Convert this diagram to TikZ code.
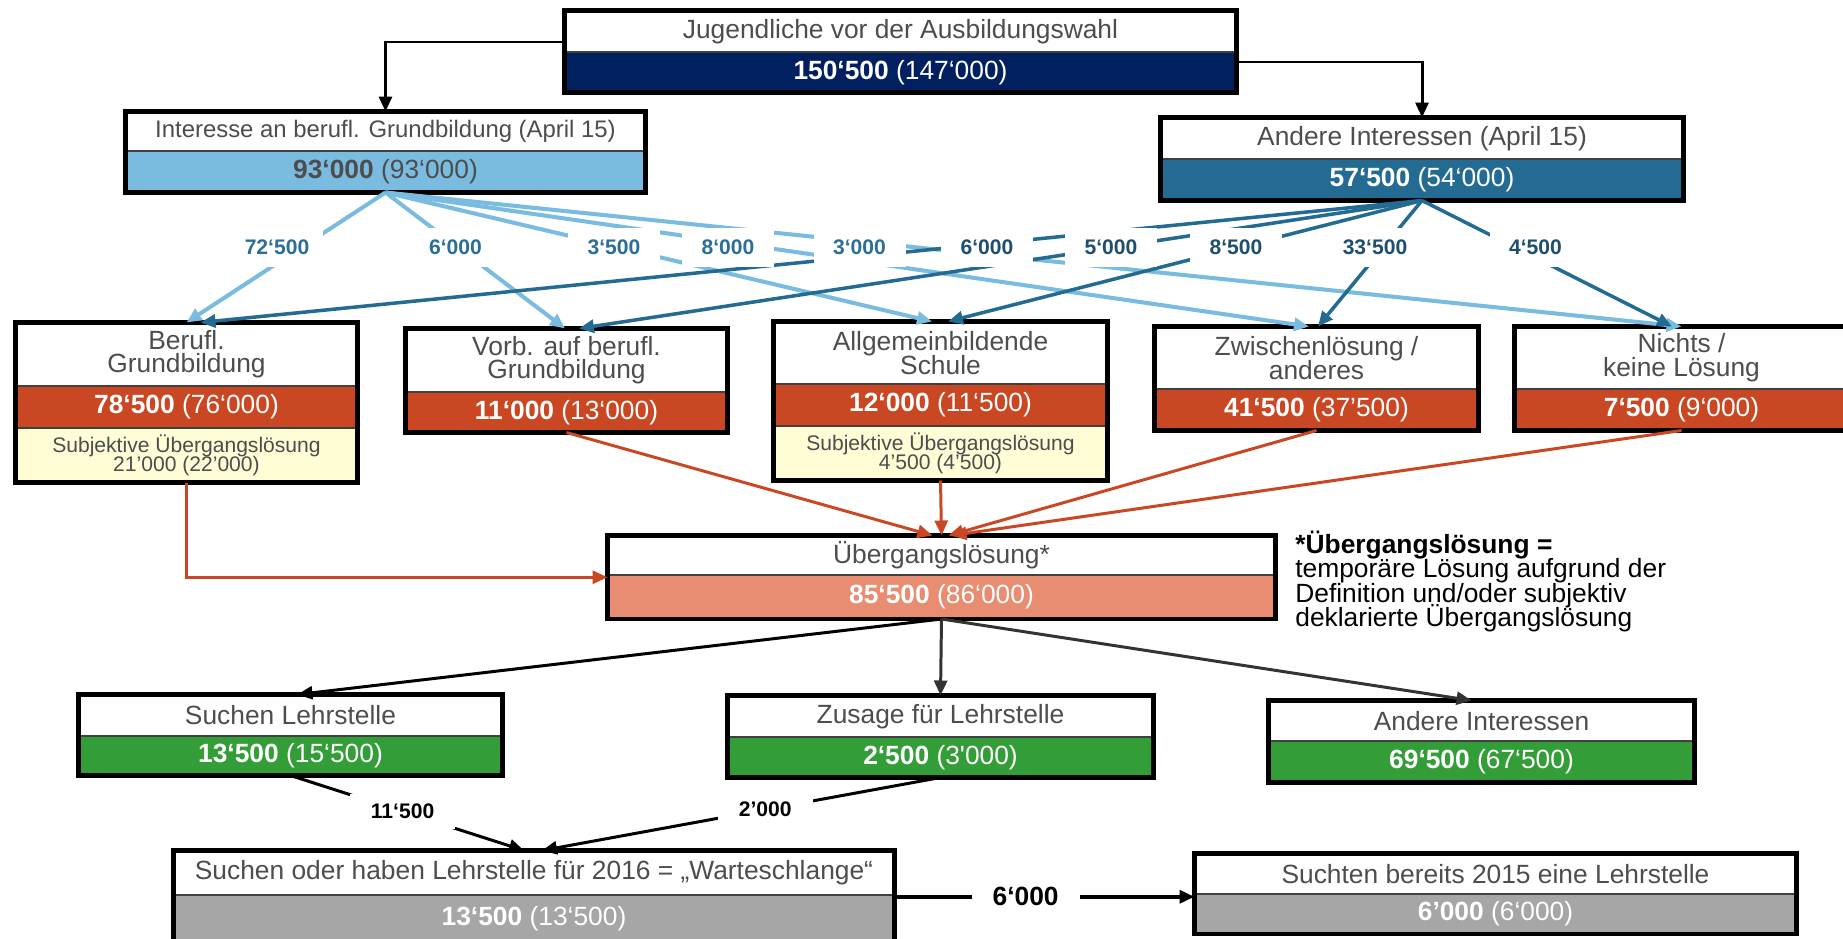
\documentclass[tikz,border=0pt]{standalone}
\usepackage{fontspec}
\setmainfont{Liberation Sans}
\usetikzlibrary{positioning,fit,arrows.meta}

\definecolor{navy}{RGB}{0,32,96}
\definecolor{lightblue}{RGB}{122,187,224}
\definecolor{steel}{RGB}{36,107,148}
\definecolor{labblue}{RGB}{43,110,152}
\definecolor{labdark}{RGB}{30,78,112}
\definecolor{rust}{RGB}{201,71,34}
\definecolor{cream}{RGB}{255,253,214}
\definecolor{salmon}{RGB}{232,140,114}
\definecolor{leaf}{RGB}{51,158,56}
\definecolor{stone}{RGB}{166,166,166}
\definecolor{txtgray}{RGB}{77,77,77}

\newcommand{\tightlines}{\setlength{\lineskiplimit}{-20pt}}

\tikzset{
  row/.style={draw=black!75, line width=1pt, inner sep=0pt, outer sep=0pt, align=center},
  ttl/.style={row, fill=white, text=txtgray, anchor=north, font=\fontsize{15}{13.5}\selectfont\tightlines},
  val/.style={row, text=white, font=\fontsize{15}{16}\selectfont},
  sub/.style={row, fill=cream, text=txtgray, font=\fontsize{12}{10.6}\selectfont\tightlines},
  boxframe/.style={draw=black, line width=2.8pt, inner sep=0pt, outer sep=0pt},
  lb/.style={->, draw=lightblue, line width=2.3pt},
  db/.style={->, draw=steel, line width=2pt},
  rd/.style={->, draw=rust, line width=1.7pt},
  bk/.style={->, draw=black, line width=1.7pt},
  lbla/.style={fill=white, text=labblue, font=\bfseries\fontsize{12}{12}\selectfont, minimum width=1.84cm, minimum height=0.78cm, inner sep=0pt},
  lbld/.style={lbla, text=labdark},
  lblk/.style={fill=white, text=black, font=\bfseries\fontsize{12}{12}\selectfont, inner xsep=0.42cm, inner ysep=0.2cm},
  legendtxt/.style={anchor=west, align=left, inner sep=0pt, font=\fontsize{15}{13.8}\selectfont\tightlines}
}

\begin{document}
\begin{tikzpicture}[>={Triangle[length=0.3cm,width=0.26cm]}]
  \clip (0,0) rectangle (36.86,-18.76);

  % Jugendliche
  \node[ttl, minimum width=13.44cm, minimum height=0.83cm] (jt) at (18.01,-0.21) {Jugendliche vor der Ausbildungswahl};
  \node[val, fill=navy, minimum width=13.44cm, minimum height=0.81cm, below=0pt of jt] (jv) {\textbf{150‘500} (147‘000)};
  \node[boxframe, fit=(jt)(jv)] (ju) {};

  % Interesse an beruflicher Grundbildung
  \node[ttl, font=\fontsize{13.6}{14}\selectfont, minimum width=10.40cm, minimum height=0.79cm] (bgt) at (7.71,-2.23) {Interesse an berufl. Grundbildung (April 15)};
  \node[val, fill=lightblue, text=txtgray, minimum width=10.40cm, minimum height=0.83cm, below=0pt of bgt] (bgv) {\textbf{93‘000} (93‘000)};
  \node[boxframe, fit=(bgt)(bgv)] (bg) {};

  % Andere Interessen
  \node[ttl, minimum width=10.46cm, minimum height=0.83cm] (ait) at (28.44,-2.35) {Andere Interessen (April 15)};
  \node[val, fill=steel, minimum width=10.46cm, minimum height=0.83cm, below=0pt of ait] (aiv) {\textbf{57‘500} (54‘000)};
  \node[boxframe, fit=(ait)(aiv)] (ai) {};

  % fuenf Loesungen
  \node[ttl, minimum width=6.84cm, minimum height=1.27cm] (gbt) at (3.73,-6.45) {Berufl.\\Grundbildung};
  \node[val, fill=rust, minimum width=6.84cm, minimum height=0.84cm, below=0pt of gbt] (gbv) {\textbf{78‘500} (76‘000)};
  \node[sub, minimum width=6.84cm, minimum height=1.09cm, below=0pt of gbv] (gbs) {Subjektive Übergangslösung\\21’000 (22’000)};
  \node[boxframe, fit=(gbt)(gbs)] (gb) {};

  \node[ttl, minimum width=6.44cm, minimum height=1.27cm] (vbt) at (11.33,-6.57) {Vorb. auf berufl.\\Grundbildung};
  \node[val, fill=rust, minimum width=6.44cm, minimum height=0.81cm, below=0pt of vbt] (vbv) {\textbf{11‘000} (13‘000)};
  \node[boxframe, fit=(vbt)(vbv)] (vb) {};

  \node[ttl, minimum width=6.68cm, minimum height=1.25cm] (ast) at (18.81,-6.43) {Allgemeinbildende\\Schule};
  \node[val, fill=rust, minimum width=6.68cm, minimum height=0.84cm, below=0pt of ast] (asv) {\textbf{12‘000} (11‘500)};
  \node[sub, minimum width=6.68cm, minimum height=1.09cm, below=0pt of asv] (ass) {Subjektive Übergangslösung\\4’500 (4’500)};
  \node[boxframe, fit=(ast)(ass)] (as) {};

  \node[ttl, minimum width=6.48cm, minimum height=1.25cm] (zlt) at (26.33,-6.53) {Zwischenlösung /\\anderes};
  \node[val, fill=rust, minimum width=6.48cm, minimum height=0.83cm, below=0pt of zlt] (zlv) {\textbf{41‘500} (37’500)};
  \node[boxframe, fit=(zlt)(zlv)] (zl) {};

  \node[ttl, minimum width=6.68cm, minimum height=1.25cm] (nlt) at (33.63,-6.53) {Nichts /\\keine Lösung};
  \node[val, fill=rust, minimum width=6.68cm, minimum height=0.83cm, below=0pt of nlt] (nlv) {\textbf{7‘500} (9‘000)};
  \node[boxframe, fit=(nlt)(nlv)] (nl) {};

  % Uebergangsloesung
  \node[ttl, minimum width=13.36cm, minimum height=0.79cm] (ult) at (18.83,-10.71) {Übergangslösung*};
  \node[val, fill=salmon, minimum width=13.36cm, minimum height=0.88cm, below=0pt of ult] (ulv) {\textbf{85‘500} (86‘000)};
  \node[boxframe, fit=(ult)(ulv)] (ul) {};

  \node[legendtxt] (def) at (25.9,-11.63) {\textbf{*Übergangslösung =}\\temporäre Lösung aufgrund der\\Definition und/oder subjektiv\\deklarierte Übergangslösung};

  % nach der Uebergangsloesung
  \node[ttl, minimum width=8.48cm, minimum height=0.83cm] (slt) at (5.81,-13.89) {Suchen Lehrstelle};
  \node[val, fill=leaf, minimum width=8.48cm, minimum height=0.79cm, below=0pt of slt] (slv) {\textbf{13‘500} (15‘500)};
  \node[boxframe, fit=(slt)(slv)] (sl) {};

  \node[ttl, minimum width=8.52cm, minimum height=0.83cm] (zst) at (18.81,-13.91) {Zusage für Lehrstelle};
  \node[val, fill=leaf, minimum width=8.52cm, minimum height=0.81cm, below=0pt of zst] (zsv) {\textbf{2‘500} (3\textquotesingle000)};
  \node[boxframe, fit=(zst)(zsv)] (zs) {};

  \node[ttl, minimum width=8.52cm, minimum height=0.81cm] (agt) at (29.63,-14.01) {Andere Interessen};
  \node[val, fill=leaf, minimum width=8.52cm, minimum height=0.83cm, below=0pt of agt] (agv) {\textbf{69‘500} (67‘500)};
  \node[boxframe, fit=(agt)(agv)] (ag) {};

  % Warteschlange
  \node[ttl, minimum width=14.42cm, minimum height=0.89cm] (wst) at (10.68,-17.01) {Suchen oder haben Lehrstelle für 2016 = „Warteschlange“};
  \node[val, fill=stone, minimum width=14.42cm, minimum height=0.96cm, below=0pt of wst] (wsv) {\textbf{13‘500} (13‘500)};
  \node[boxframe, fit=(wst)(wsv)] (ws) {};

  \node[ttl, minimum width=12.04cm, minimum height=0.81cm] (sbt) at (29.91,-17.07) {Suchten bereits 2015 eine Lehrstelle};
  \node[val, fill=stone, minimum width=12.04cm, minimum height=0.80cm, below=0pt of sbt] (sbv) {\textbf{6’000} (6‘000)};
  \node[boxframe, fit=(sbt)(sbv)] (sb) {};

  % Verbindungen
  \draw[bk] ([yshift=0.19cm]ju.west) -| (bg.north);
  \draw[bk] ([yshift=-0.21cm]ju.east) -| (ai.north);

  \draw[lb] (bg.south) -- (gb.north);
  \draw[lb] (bg.south) -- ([xshift=-0.03cm]vb.north);
  \draw[lb] (bg.south) -- ([xshift=-0.17cm]as.north);
  \draw[lb] (bg.south) -- ([xshift=-0.15cm]zl.north);
  \draw[lb] (bg.south) -- (nl.north);

  \draw[db] (ai.south) -- ([xshift=0.28cm]gb.north);
  \draw[db] (ai.south) -- ([xshift=0.25cm]vb.north);
  \draw[db] (ai.south) -- ([xshift=0.15cm]as.north);
  \draw[db] (ai.south) -- ([xshift=0.03cm]zl.north);
  \draw[db] (ai.south) -- ([xshift=-0.19cm]nl.north);

  \node[lbla] (l1) at (5.54,-4.94) {72‘500};
  \node[lbla] (l2) at (9.11,-4.94) {6‘000};
  \node[lbla] (l3) at (12.28,-4.94) {3‘500};
  \node[lbla] (l4) at (14.56,-4.94) {8‘000};
  \node[lbla] (l5) at (17.19,-4.94) {3‘000};
  \node[lbld] (l6) at (19.74,-4.94) {6‘000};
  \node[lbld] (l7) at (22.22,-4.94) {5‘000};
  \node[lbld] (l8) at (24.72,-4.94) {8‘500};
  \node[lbld] (l9) at (27.50,-4.94) {33‘500};
  \node[lbld] (l10) at (30.71,-4.94) {4‘500};

  \draw[rd] (gb.south) |- (ul.west);
  \draw[rd] (vb.south) -- ([xshift=-0.18cm]ul.north);
  \draw[rd] (as.south) -- (ul.north);
  \draw[rd] (zl.south) -- ([xshift=0.14cm]ul.north);
  \draw[rd] (nl.south) -- ([xshift=0.2cm]ul.north);

  \draw[bk] (ul.south) -- ([xshift=0.14cm]sl.north);
  \draw[bk, draw=black!80] (ul.south) -- (zs.north);
  \draw[bk, draw=black!80] (ul.south) -- ([xshift=-0.2cm]ag.north);

  \draw[bk] (sl.south) -- node[lblk, pos=0.48] (l11) {11‘500} ([xshift=-0.2cm]ws.north);
  \draw[bk] (zs.south) -- node[lblk, pos=0.44] (l12) {2’000} ([xshift=0.16cm]ws.north);
  \draw[bk, line width=2pt] (ws.east) -- node[lblk, font=\bfseries\fontsize{15}{15}\selectfont, pos=0.437] (l13) {6‘000} (ws.east -| sb.west);
\end{tikzpicture}
\end{document}
